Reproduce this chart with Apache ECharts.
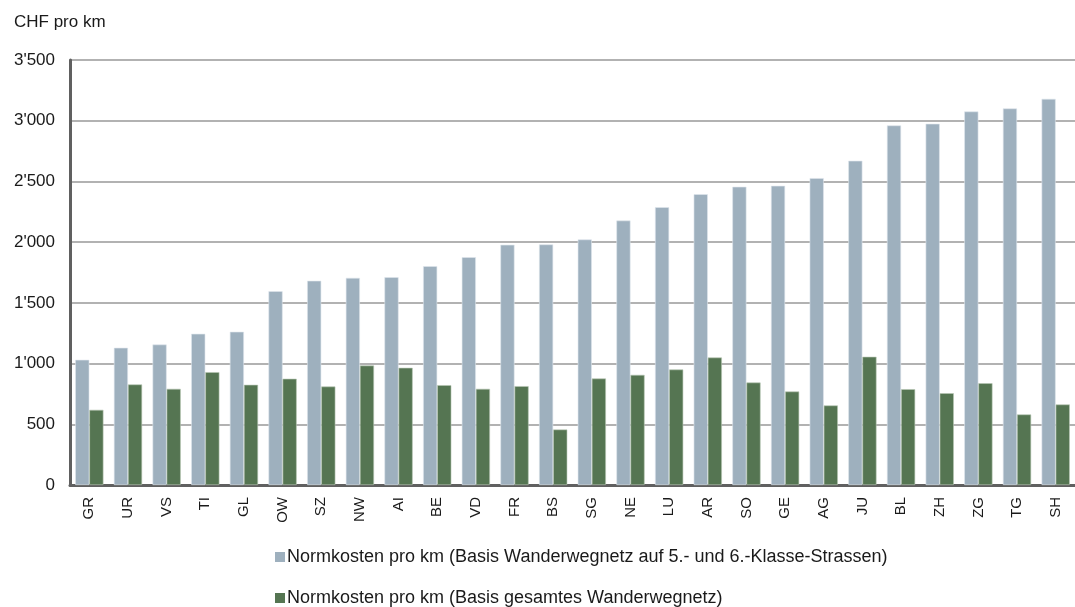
<!DOCTYPE html>
<html>
<head>
<meta charset="utf-8">
<script src="https://cdn.jsdelivr.net/npm/echarts@6/dist/echarts.min.js"></script>
<style>
  html, body { margin: 0; padding: 0; background: #fff; }
  #chart { width: 1075px; height: 607px; }
</style>
</head>
<body>
<div id="chart"></div>
<script>
// Kantone, sortiert nach Normkosten (5.- und 6.-Klasse-Strassen)
const cantons = ['GR','UR','VS','TI','GL','OW','SZ','NW','AI','BE','VD','FR','BS','SG','NE','LU','AR','SO','GE','AG','JU','BL','ZH','ZG','TG','SH'];

// CHF pro km, Basis Wanderwegnetz auf 5.- und 6.-Klasse-Strassen
const costRoads = [1031,1130,1157,1245,1262,1596,1682,1706,1711,1802,1876,1978,1981,2022,2178,2288,2395,2456,2464,2527,2670,2961,2975,3076,3101,3180];

// CHF pro km, Basis gesamtes Wanderwegnetz
const costTotal = [619,828,792,929,825,875,811,984,965,822,792,814,457,877,907,951,1050,844,770,655,1056,789,756,838,581,663];

const seriesNames = [
  'Normkosten pro km (Basis Wanderwegnetz auf 5.- und 6.-Klasse-Strassen)',
  'Normkosten pro km (Basis gesamtes Wanderwegnetz)'
];

const yTicks = { min: 0, max: 3500, interval: 500 };

const fmt = v => String(v).replace(/\B(?=(\d{3})+(?!\d))/g, "'");

const chart = echarts.init(document.getElementById('chart'), null, { renderer: 'canvas' });
const font = 'Liberation Sans, Arial, sans-serif';

const legendBase = {
  orient: 'horizontal',
  left: 275,
  padding: 0,
  itemWidth: 10, itemHeight: 10,
  icon: 'rect',
  itemStyle: { borderWidth: 0 },
  textStyle: { fontSize: 18, color: '#1a1a1a', fontFamily: font, padding: [0, 0, 0, -3] }
};

chart.setOption({
  animation: false,
  textStyle: { fontFamily: font },
  title: {
    text: 'CHF pro km',
    left: 9, top: 9,
    textStyle: { fontSize: 17, fontWeight: 'normal', color: '#1a1a1a', fontFamily: font }
  },
  legend: [
    Object.assign({}, legendBase, { top: 548, data: [seriesNames[0]] }),
    Object.assign({}, legendBase, { top: 589, data: [seriesNames[1]] })
  ],
  grid: { left: 70, right: 0, top: 60, bottom: 122 },
  xAxis: {
    type: 'category',
    data: cantons,
    axisLine: { lineStyle: { color: '#606060', width: 3 } },
    axisTick: { show: false },
    axisLabel: { rotate: 90, fontSize: 15, color: '#1a1a1a', margin: 12, fontFamily: font }
  },
  yAxis: {
    type: 'value',
    min: yTicks.min, max: yTicks.max, interval: yTicks.interval,
    axisLine: { show: true, lineStyle: { color: '#606060', width: 3 } },
    axisTick: { show: false },
    axisLabel: { fontSize: 17, color: '#1a1a1a', margin: 15, formatter: fmt, fontFamily: font },
    splitLine: { lineStyle: { color: '#999', width: 1.5 } }
  },
  series: [
    {
      name: seriesNames[0], type: 'bar', data: costRoads,
      barGap: '0%', barCategoryGap: '27%',
      itemStyle: { color: '#9eb0be', borderColor: '#dfe6ec', borderWidth: 0.6 }
    },
    {
      name: seriesNames[1], type: 'bar', data: costTotal,
      itemStyle: { color: '#557552', borderColor: '#b8c8b6', borderWidth: 0.6 }
    }
  ]
});
</script>
</body>
</html>
